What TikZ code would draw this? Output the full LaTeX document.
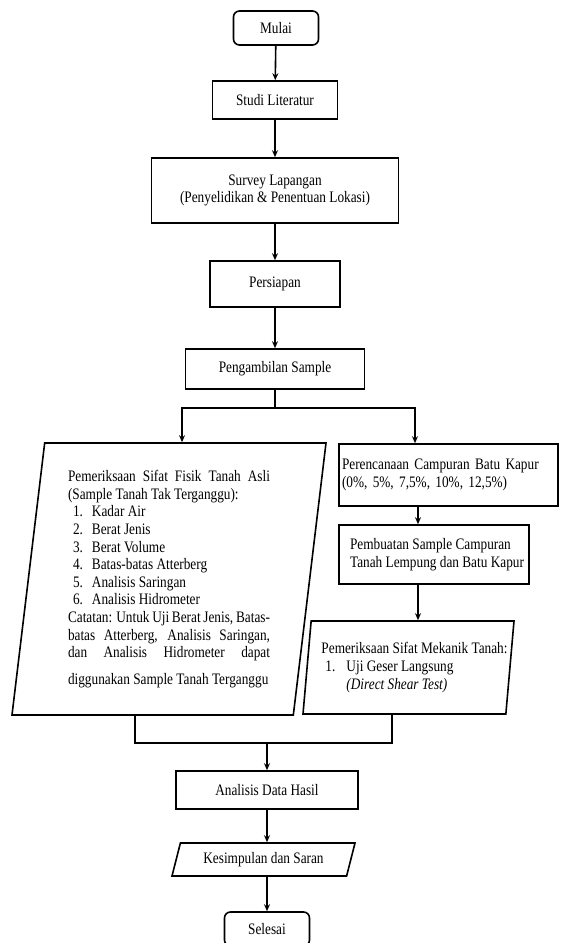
\documentclass[tikz,border=0pt]{standalone}
\usepackage{fontspec}
\setmainfont{Liberation Serif}[FakeStretch=0.83]
\usepackage{tikz}
\usetikzlibrary{shapes.geometric, arrows.meta, calc}
\tikzset{proses/.style={draw, rectangle, line width=1.6pt, inner sep=2pt, align=center},
         terminal/.style={proses, rounded corners=6pt},
         data/.style={draw, trapezium, trapezium stretches body, line width=1.6pt, inner sep=2pt},
         garis/.style={line width=1.6pt},
         panah/.style={line width=1.6pt, -{Stealth[length=7pt,width=6pt]}}}
\newcommand{\butir}[2]{\hspace*{5pt}\makebox[19pt][l]{#1}#2}

\begin{document}
\begin{tikzpicture}[x=1pt, y=-1pt, font=\fontsize{16}{17.6}\selectfont]
                 \useasboundingbox (0,0) rectangle (560,943);

                 % jalur utama
                 \node[terminal, minimum width=85pt, minimum height=34pt] (mulai) at (276,28) {Mulai};
                 \node[proses, minimum width=125pt, minimum height=38pt] (studi) at (275,100) {Studi Literatur};
                 \node[proses, minimum width=247pt, minimum height=65pt] (survey) at (275,190.5)
                      {Survey Lapangan\\(Penyelidikan \& Penentuan Lokasi)};
                 \node[proses, minimum width=130pt, minimum height=46pt] (siap) at (275,284) {Persiapan};
                 \node[proses, minimum width=179pt, minimum height=40pt] (ambil) at (275,369) {Pengambilan Sample};

                 \draw[panah] (mulai) -- (studi);
                 \draw[panah] (studi) -- (survey);
                 \draw[panah] (survey) -- (siap);
                 \draw[panah] (siap) -- (ambil);

                 % cabang kiri: sifat fisik
                 \node[data, trapezium left angle=81.6, trapezium right angle=98.4,
                       minimum width=314pt, minimum height=272pt, text width=202pt, align=justify] (fisik) at (169,579)
                      {Pemeriksaan Sifat Fisik Tanah Asli\linebreak
                       (Sample Tanah Tak Terganggu):\\
                       \butir{1.}{Kadar Air}\\
                       \butir{2.}{Berat Jenis}\\
                       \butir{3.}{Berat Volume}\\
                       \butir{4.}{Batas-batas Atterberg}\\
                       \butir{5.}{Analisis Saringan}\\
                       \butir{6.}{Analisis Hidrometer}\\
                       Catatan: Untuk Uji Berat Jenis, Batas-\linebreak
                       batas Atterberg, Analisis Saringan,\linebreak
                       dan Analisis Hidrometer dapat\vadjust{\vskip 9pt}\linebreak
                       diggunakan Sample Tanah Terganggu\vadjust{\vskip 12pt}};

                 % cabang kanan: campuran batu kapur
                 \node[proses, minimum width=219pt, minimum height=62pt, text width=213pt, inner xsep=3pt, align=left] (rencana) at (448.5,475)
                      {Perencanaan Campuran Batu Kapur\\(0\%, 5\%, 7,5\%, 10\%, 12,5\%)};
                 \node[proses, minimum width=190pt, minimum height=59pt, align=left] (buat) at (434,554.5)
                      {\hspace*{6pt}Pembuatan Sample Campuran\\\hspace*{6pt}Tanah Lempung dan Batu Kapur};
                 \node[data, trapezium left angle=81.4, trapezium right angle=98.6,
                       minimum width=211pt, minimum height=93pt, align=left, inner xsep=-9pt] (mekanik) at (408.5,667.5)
                      {\hspace*{12pt}Pemeriksaan Sifat Mekanik Tanah:\\
                       \hspace*{16pt}\makebox[21pt][l]{1.}Uji Geser Langsung\\
                       \hspace*{37pt}\textit{(Direct Shear Test)}};

                 \coordinate (cabang) at (275,408);
                 \draw[garis] (ambil) -- (cabang);
                 \draw[panah] (cabang) -| ([xshift=13pt]fisik.north);
                 \draw[panah] (cabang) -| ([xshift=-33.5pt]rencana.north);
                 \draw[panah] ([xshift=-30.5pt]rencana.south) -- ([xshift=-30.5pt]rencana.south |- buat.north);
                 \draw[panah] ([xshift=-16pt]buat.south) -- ([xshift=-16pt]buat.south |- mekanik.north);

                 % gabung dan akhir
                 \node[proses, minimum width=182pt, minimum height=38pt] (analisis) at (267,790) {Analisis Data Hasil};
                 \node[data, trapezium left angle=65.6, trapezium right angle=114.4,
                       minimum width=183pt, minimum height=33pt] (kesim) at (263.5,859.5) {Kesimpulan dan Saran};
                 \node[terminal, minimum width=85pt, minimum height=34pt] (selesai) at (267,929) {Selesai};

                 \coordinate (gabung) at (267,743);
                 \draw[garis] ([xshift=-34pt]fisik.south) |- (gabung) -| ([xshift=-16.5pt]mekanik.south);
                 \draw[panah] (gabung) -- (analisis);
                 \draw[panah] (analisis) -- (analisis |- kesim.north);
                 \draw[panah] (kesim.south -| selesai) -- (selesai);

\end{tikzpicture}
\end{document}
